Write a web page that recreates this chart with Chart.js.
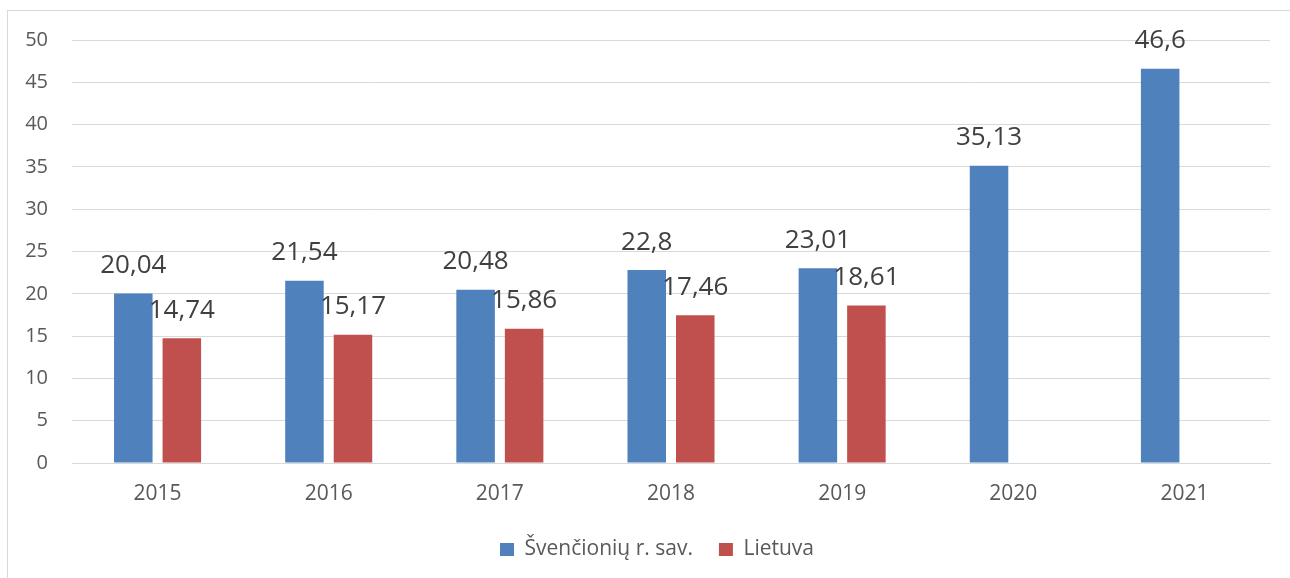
<!DOCTYPE html>
<html lang="lt">
<head>
  <meta charset="UTF-8">
  <title>Švenčionių r. sav. ir Lietuva</title>
  <style>
    html, body {
      margin: 0;
      padding: 0;
      background: #fff;
      overflow: hidden;
    }
    .frame {
      position: absolute;
      left: 7px;
      top: 10px;
      width: 1300px;
      height: 600px;
      border: 1px solid #d9d9d9;
      box-sizing: border-box;
    }
    .wrap {
      position: absolute;
      left: 0;
      top: 0;
      width: 1290px;
      height: 578px;
    }
  </style>
  <script src="https://cdn.jsdelivr.net/npm/chart.js"></script>
</head>
<body>
  <div class="frame"></div>
  <div class="wrap"><canvas id="chart" width="1290" height="578"></canvas></div>
  <script>
    // duomenys
    const years = ["2015", "2016", "2017", "2018", "2019", "2020", "2021"];
    const svencionys = [20.04, 21.54, 20.48, 22.8, 23.01, 35.13, 46.6];
    const lietuva = [14.74, 15.17, 15.86, 17.46, 18.61, null, null];
    const seriesNames = ["Švenčionių r. sav.", "Lietuva"];
    const yTicks = [0, 5, 10, 15, 20, 25, 30, 35, 40, 45, 50];

    const fontFamily = "'Open Sans', 'Noto Sans', sans-serif";

    // reikšmės virš stulpelių
    const valueLabels = {
      id: 'valueLabels',
      afterDatasetsDraw(chart) {
        const ctx = chart.ctx;
        ctx.save();
        ctx.font = '26px ' + fontFamily;
        ctx.fillStyle = '#404040';
        ctx.textAlign = 'center';
        ctx.textBaseline = 'middle';
        chart.data.datasets.forEach((ds, i) => {
          const meta = chart.getDatasetMeta(i);
          meta.data.forEach((bar, j) => {
            const v = ds.data[j];
            if (v === null || v === undefined) return;
            const txt = String(v).replace('.', ',');
            ctx.fillText(txt, bar.x, bar.y - 28);
          });
        });
        ctx.restore();
      }
    };

    // legenda truputį į dešinę, kaip originale
    const shiftLegend = {
      id: 'shiftLegend',
      afterLayout(chart) {
        chart.legend.left += 22;
        chart.legend.right += 22;
      }
    };

    new Chart(document.getElementById('chart'), {
      type: 'bar',
      data: {
        labels: years,
        datasets: [
          {
            label: seriesNames[0],
            data: svencionys,
            backgroundColor: '#4F81BD',
            borderWidth: 0
          },
          {
            label: seriesNames[1],
            data: lietuva,
            backgroundColor: '#C0504D',
            borderWidth: 0
          }
        ]
      },
      options: {
        responsive: false,
        animation: false,
        categoryPercentage: 0.567,
        barPercentage: 0.794,
        layout: {
          padding: { top: 40, right: 20, left: 0, bottom: 8 }
        },
        scales: {
          x: {
            grid: { display: false, drawTicks: false },
            border: { display: true, color: '#d9d9d9', width: 1 },
            ticks: {
              color: '#595959',
              font: { family: fontFamily, size: 21 },
              padding: 18
            },
            afterFit(scale) { scale.height = 50; }
          },
          y: {
            min: 0,
            max: 50,
            afterBuildTicks(scale) {
              scale.ticks = yTicks.map(v => ({ value: v }));
            },
            grid: { color: '#d9d9d9', lineWidth: 1, drawTicks: false },
            border: { display: false },
            ticks: {
              color: '#595959',
              font: { family: fontFamily, size: 20 },
              padding: 24
            },
            afterFit(scale) { scale.width = 72; }
          }
        },
        plugins: {
          legend: {
            position: 'bottom',
            labels: {
              boxWidth: 14,
              boxHeight: 13,
              padding: 26,
              color: '#595959',
              font: { family: fontFamily, size: 21 }
            }
          },
          tooltip: { enabled: false }
        }
      },
      plugins: [valueLabels, shiftLegend]
    });
  </script>
</body>
</html>
